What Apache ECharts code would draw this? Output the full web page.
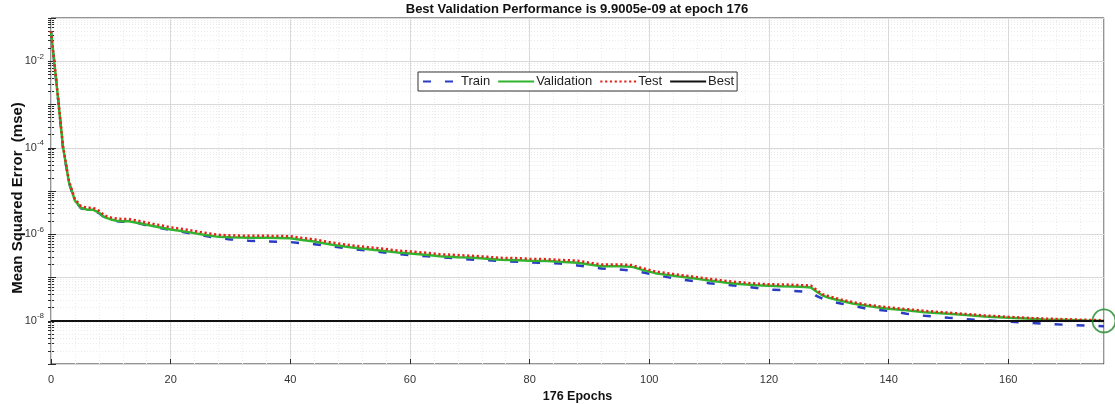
<!DOCTYPE html>
<html>
<head>
<meta charset="utf-8">
<script src="https://cdn.jsdelivr.net/npm/echarts@6/dist/echarts.min.js"></script>
<style>
  html, body { margin: 0; padding: 0; background: #ffffff; }
  #chart { width: 1115px; height: 404px; }
</style>
</head>
<body>
<div id="chart"></div>
<script>
// Training record: mean squared error per epoch for each data split
const epochs = [0, 1, 2, 3, 4, 5, 6, 7, 8, 9, 10, 11, 12, 13,
  15, 17, 20, 23, 25, 28, 30, 33, 36, 40,
  42, 44, 47, 50, 53, 55, 58, 60, 63, 65,
  68, 70, 73, 75, 78, 80, 83, 85, 88, 90,
  92, 95, 97, 99, 101, 103, 105, 108, 110, 113,
  115, 118, 120, 122, 124, 126, 127, 128, 129, 130,
  132, 134, 136, 138, 140, 143, 146, 150, 153, 156,
  160, 163, 166, 170, 173, 176];

const trainMse = [4.9e-2, 2.4e-3, 1.0e-4, 1.55e-5, 5.9e-6, 4.0e-6, 3.6e-6, 3.6e-6, 3.1e-6, 2.4e-6, 2.15e-6, 2.0e-6, 1.95e-6, 1.95e-6,
  1.74e-6, 1.5e-6, 1.25e-6, 1.07e-6, 9.6e-7, 8.1e-7, 7.6e-7, 7.1e-7, 6.8e-7, 6.6e-7,
  6.2e-7, 5.9e-7, 5.2e-7, 4.6e-7, 4.2e-7, 3.9e-7, 3.5e-7, 3.3e-7, 3.1e-7, 2.95e-7,
  2.75e-7, 2.6e-7, 2.5e-7, 2.4e-7, 2.3e-7, 2.25e-7, 2.15e-7, 2.1e-7, 1.9e-7, 1.74e-7,
  1.62e-7, 1.53e-7, 1.45e-7, 1.3e-7, 1.15e-7, 1.02e-7, 9.1e-8, 8.1e-8, 7.4e-8, 6.8e-8,
  6.4e-8, 5.7e-8, 5.3e-8, 5.1e-8, 4.9e-8, 4.7e-8, 4.6e-8, 3.7e-8, 3.2e-8, 2.9e-8,
  2.5e-8, 2.2e-8, 1.95e-8, 1.8e-8, 1.7e-8, 1.45e-8, 1.3e-8, 1.17e-8, 1.09e-8, 1.03e-8,
  9.5e-9, 9.0e-9, 8.6e-9, 8.0e-9, 7.7e-9, 7.5e-9];

const validationMse = [4.9e-2, 2.4e-3, 1.05e-4, 1.58e-5, 6.0e-6, 4.1e-6, 3.7e-6, 3.7e-6, 3.16e-6, 2.45e-6, 2.2e-6, 2.05e-6, 2.0e-6, 2.0e-6,
  1.78e-6, 1.55e-6, 1.29e-6, 1.12e-6, 1.0e-6, 8.7e-7, 8.5e-7, 8.3e-7, 8.3e-7, 8.1e-7,
  7.4e-7, 6.8e-7, 5.75e-7, 5.0e-7, 4.5e-7, 4.2e-7, 3.8e-7, 3.6e-7, 3.3e-7, 3.1e-7,
  2.95e-7, 2.9e-7, 2.7e-7, 2.57e-7, 2.5e-7, 2.45e-7, 2.4e-7, 2.3e-7, 2.2e-7, 2.0e-7,
  1.82e-7, 1.82e-7, 1.78e-7, 1.48e-7, 1.26e-7, 1.15e-7, 1.05e-7, 9.3e-8, 8.5e-8, 7.6e-8,
  7.1e-8, 6.6e-8, 6.45e-8, 6.3e-8, 6.2e-8, 6.0e-8, 5.9e-8, 4.7e-8, 3.8e-8, 3.4e-8,
  2.9e-8, 2.5e-8, 2.24e-8, 2.04e-8, 1.9e-8, 1.74e-8, 1.58e-8, 1.45e-8, 1.35e-8, 1.26e-8,
  1.17e-8, 1.12e-8, 1.07e-8, 1.035e-8, 1.01e-8, 9.9005e-9];

const testMse = [5.0e-2, 2.5e-3, 1.1e-4, 1.7e-5, 6.5e-6, 4.5e-6, 4.1e-6, 4.1e-6, 3.5e-6, 2.7e-6, 2.45e-6, 2.3e-6, 2.25e-6, 2.25e-6,
  2.0e-6, 1.75e-6, 1.45e-6, 1.26e-6, 1.12e-6, 9.7e-7, 9.4e-7, 9.2e-7, 9.2e-7, 9.0e-7,
  8.2e-7, 7.6e-7, 6.4e-7, 5.6e-7, 5.0e-7, 4.7e-7, 4.2e-7, 4.0e-7, 3.7e-7, 3.45e-7,
  3.3e-7, 3.2e-7, 3.0e-7, 2.85e-7, 2.8e-7, 2.7e-7, 2.65e-7, 2.55e-7, 2.45e-7, 2.2e-7,
  2.0e-7, 2.0e-7, 1.95e-7, 1.62e-7, 1.38e-7, 1.26e-7, 1.15e-7, 1.02e-7, 9.3e-8, 8.3e-8,
  7.8e-8, 7.2e-8, 7.0e-8, 6.9e-8, 6.8e-8, 6.6e-8, 6.5e-8, 5.1e-8, 4.1e-8, 3.7e-8,
  3.1e-8, 2.7e-8, 2.4e-8, 2.2e-8, 2.04e-8, 1.86e-8, 1.69e-8, 1.54e-8, 1.43e-8, 1.33e-8,
  1.23e-8, 1.17e-8, 1.12e-8, 1.08e-8, 1.05e-8, 1.03e-8];

const bestEpoch = 176;
const bestMse = 9.9005e-9;

// Axis ranges and labelled ticks
const xMin = 0, xMax = 176, xStep = 20, xMinorStep = 4;
const yMinDecade = -9, yMaxDecade = -1;
const yLabelDecades = [-2, -4, -6, -8];

const FONT = '"Liberation Sans", Arial, Helvetica, sans-serif';

// MATLAB-style exponent text, e.g. 9.9005e-09
function matlabExp(v) {
  const [m, e] = v.toExponential(4).split('e');
  const sign = e[0] === '-' ? '-' : '+';
  const digits = e.replace(/[+-]/, '').padStart(2, '0');
  return m + 'e' + sign + digits;
}

// Log-decade plotting: y values are log10(mse)
const toLog = (arr) => epochs.map((ep, i) => [ep, Math.log10(arr[i])]);

// Minor log ticks at 2..9 x 10^n
const yMinorTicks = [];
for (let n = yMinDecade; n < yMaxDecade; n++) {
  for (let k = 2; k <= 9; k++) yMinorTicks.push(n + Math.log10(k));
}
const yAllTicks = [];
for (let n = yMinDecade; n <= yMaxDecade; n++) yAllTicks.push(n);

const chart = echarts.init(document.getElementById('chart'), null, { renderer: 'canvas' });

const option = {
  animation: false,
  backgroundColor: '#ffffff',
  title: {
    text: 'Best Validation Performance is ' + matlabExp(bestMse) + ' at epoch ' + bestEpoch,
    left: 572,
    textAlign: 'center',
    top: -2,
    textStyle: { fontFamily: FONT, fontSize: 13, fontWeight: 'bold', color: '#111' }
  },
  legend: {
    data: ['Train', 'Validation', 'Test', 'Best'],
    left: 418,
    top: 72,
    padding: [3, 3, 3, 4],
    itemWidth: 36,
    itemHeight: 10,
    itemGap: 7,
    itemStyle: { opacity: 0 },
    textStyle: { fontFamily: FONT, fontSize: 13, color: '#222', padding: [0, 0, 0, -3] },
    borderColor: '#333',
    borderWidth: 1,
    backgroundColor: '#ffffff',
    selectedMode: false
  },
  grid: {
    left: 51, right: 11, top: 18, bottom: 40,
    outerBoundsMode: 'none',
    containLabel: false,
    show: true, borderColor: '#2b2b2b', borderWidth: 1, backgroundColor: '#ffffff'
  },
  xAxis: [
    {
      type: 'value', min: xMin, max: xMax, interval: xStep, position: 'bottom',
      name: bestEpoch + ' Epochs', nameLocation: 'middle', nameGap: 21,
      nameTextStyle: { fontFamily: FONT, fontSize: 12.5, fontWeight: 'bold', color: '#111' },
      axisLine: { show: false },
      axisTick: { show: true, inside: true, length: 5, lineStyle: { color: '#2b2b2b' } },
      axisLabel: { show: true, margin: 10, showMaxLabel: false, fontFamily: FONT, fontSize: 11, color: '#333' },
      splitLine: { show: true, lineStyle: { color: '#d9d9d9', width: 1 } },
      z: 3
    },
    {
      // minor vertical grid
      type: 'value', min: xMin, max: xMax, interval: xMinorStep, position: 'bottom',
      axisLine: { show: false }, axisTick: { show: false }, axisLabel: { show: false },
      splitLine: { show: true, lineStyle: { color: '#ececec', width: 1, type: [1, 2] } },
      z: 1
    },
    {
      // top ticks
      type: 'value', min: xMin, max: xMax, interval: xStep, position: 'top',
      axisLine: { show: false },
      axisTick: { show: true, inside: true, length: 5, lineStyle: { color: '#2b2b2b' } },
      axisLabel: { show: false }, splitLine: { show: false }
    }
  ],
  yAxis: [
    {
      type: 'value', min: yMinDecade, max: yMaxDecade, interval: 1, position: 'left',
      name: 'Mean Squared Error  (mse)', nameLocation: 'middle', nameGap: 26, nameRotate: 90,
      nameMoveOverlap: false,
      nameTextStyle: { fontFamily: FONT, fontSize: 15, fontWeight: 'bold', color: '#111', padding: [0, 14, 0, 0] },
      axisLine: { show: false },
      axisTick: { show: true, inside: true, length: 5, lineStyle: { color: '#2b2b2b' } },
      axisLabel: {
        show: true, margin: 7,
        formatter: (v) => yLabelDecades.includes(Math.round(v)) ? '{b|10}{s|' + Math.round(v) + '}' : '',
        rich: {
          b: { fontFamily: FONT, fontSize: 11, color: '#333' },
          s: { fontFamily: FONT, fontSize: 8, color: '#333', padding: [0, 0, 9, 0] }
        }
      },
      splitLine: { show: true, lineStyle: { color: '#d9d9d9', width: 1 } },
      z: 3
    },
    {
      // minor log grid with ticks on the left edge
      type: 'value', min: yMinDecade, max: yMaxDecade, position: 'left',
      axisLine: { show: false },
      axisTick: { show: true, inside: true, length: 3, customValues: yMinorTicks, lineStyle: { color: '#2b2b2b' } },
      axisLabel: { show: false },
      splitLine: { show: true, lineStyle: { color: '#ebebeb', width: 1, type: [1, 2] } },
      z: 1
    },
    {
      // right edge ticks
      type: 'value', min: yMinDecade, max: yMaxDecade, position: 'right',
      axisLine: { show: false },
      axisTick: { show: true, inside: true, length: 3, customValues: yMinorTicks.concat(yAllTicks), lineStyle: { color: '#2b2b2b' } },
      axisLabel: { show: false }, splitLine: { show: false }
    }
  ],
  series: [
    {
      name: 'Train', type: 'line', xAxisIndex: 0, yAxisIndex: 0,
      data: toLog(trainMse), symbol: 'none', color: '#2a3cc4',
      lineStyle: { color: '#2a3cc4', width: 2.5, type: [8, 14] }, z: 4
    },
    {
      name: 'Validation', type: 'line', xAxisIndex: 0, yAxisIndex: 0,
      data: toLog(validationMse), symbol: 'none', color: '#2fb52f',
      lineStyle: { color: '#2fb52f', width: 2.5, type: 'solid' }, z: 5
    },
    {
      name: 'Test', type: 'line', xAxisIndex: 0, yAxisIndex: 0,
      data: toLog(testMse), symbol: 'none', color: '#e3241b',
      lineStyle: { color: '#e3241b', width: 2.5, type: [2.2, 2.6], cap: 'butt' }, z: 6
    },
    {
      name: 'Best', type: 'line', xAxisIndex: 0, yAxisIndex: 0,
      data: [[xMin, Math.log10(bestMse)], [xMax, Math.log10(bestMse)]],
      symbol: 'none', color: '#111111',
      lineStyle: { color: '#111111', width: 2 }, z: 7
    },
    {
      name: 'Best epoch', type: 'scatter', xAxisIndex: 0, yAxisIndex: 0,
      data: [[bestEpoch, Math.log10(bestMse)]],
      symbol: 'circle', symbolSize: 23, clip: false,
      itemStyle: { color: 'rgba(0,0,0,0)', borderColor: '#1f8a2a', borderWidth: 1.8 },
      silent: true, z: 8
    }
  ]
};

chart.setOption(option);
</script>
</body>
</html>
